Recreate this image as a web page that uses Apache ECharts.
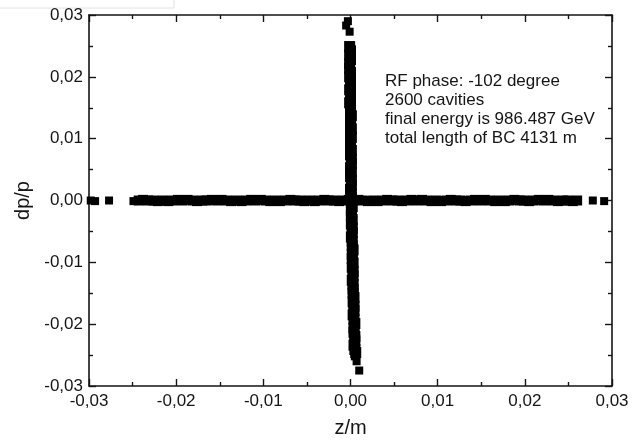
<!DOCTYPE html>
<html>
<head>
<meta charset="utf-8">
<script src="https://cdn.jsdelivr.net/npm/echarts@6/dist/echarts.min.js"></script>
<style>
  html, body { margin: 0; padding: 0; background: #fff; }
  #chart { width: 639px; height: 443px; }
</style>
</head>
<body>
<div id="chart"></div>
<script>
// axis ticks
var xMin = -0.03, xMax = 0.03, xStep = 0.01;
var yMin = -0.03, yMax = 0.03, yStep = 0.01;

// dense band of particles along the z axis (dp ~ 0)  [z, dp]
var horizontalCore = [
  [-0.0243, 0.0000], [-0.0238, 0.0001], [-0.0232, 0.0000], [-0.0226, 0.0000], [-0.0221, -0.0001],
  [-0.0215, 0.0000], [-0.0209, -0.0001], [-0.0204, 0.0000], [-0.0198, 0.0001], [-0.0193, 0.0000],
  [-0.0187, 0.0001], [-0.0181, 0.0000], [-0.0176, -0.0001], [-0.0170, 0.0000], [-0.0165, 0.0000],
  [-0.0159, 0.0001], [-0.0153, 0.0000], [-0.0148, 0.0001], [-0.0142, 0.0000], [-0.0137, -0.0001],
  [-0.0131, 0.0000], [-0.0125, -0.0001], [-0.0120, 0.0000], [-0.0114, 0.0001], [-0.0109, 0.0000],
  [-0.0103, 0.0001], [-0.0097, 0.0000], [-0.0092, -0.0001], [-0.0086, 0.0000], [-0.0081, -0.0001],
  [-0.0075, 0.0000], [-0.0069, 0.0001], [-0.0064, 0.0000], [-0.0058, 0.0000], [-0.0053, -0.0001],
  [-0.0047, 0.0000], [-0.0041, -0.0001], [-0.0036, 0.0000], [-0.0030, 0.0001], [-0.0025, 0.0000],
  [-0.0019, 0.0000], [-0.0013, -0.0001], [-0.0008, 0.0000], [-0.0002, 0.0001], [0.0003, 0.0000],
  [0.0009, 0.0001], [0.0014, 0.0000], [0.0020, -0.0001], [0.0026, 0.0000], [0.0031, -0.0001],
  [0.0037, 0.0000], [0.0042, 0.0001], [0.0048, 0.0000], [0.0054, 0.0000], [0.0059, -0.0001],
  [0.0065, 0.0000], [0.0070, 0.0001], [0.0076, 0.0000], [0.0082, 0.0001], [0.0087, 0.0000],
  [0.0093, -0.0001], [0.0098, 0.0000], [0.0104, -0.0001], [0.0110, 0.0000], [0.0115, 0.0001],
  [0.0121, 0.0000], [0.0126, 0.0000], [0.0132, -0.0001], [0.0138, 0.0000], [0.0143, 0.0001],
  [0.0149, 0.0000], [0.0154, 0.0001], [0.0160, 0.0000], [0.0166, -0.0001], [0.0171, 0.0000],
  [0.0177, -0.0001], [0.0182, 0.0000], [0.0188, 0.0001], [0.0194, 0.0000], [0.0199, 0.0000],
  [0.0205, -0.0001], [0.0210, 0.0000], [0.0216, 0.0001], [0.0222, 0.0000], [0.0227, 0.0001],
  [0.0233, 0.0000], [0.0238, -0.0001], [0.0244, 0.0000], [0.0249, 0.0000], [0.0255, -0.0001],
  [0.0260, 0.0000]
];

// isolated particles at the ends of the z band  [z, dp]
var horizontalStray = [
  [-0.0298, 0.0000], [-0.0293, -0.0001], [-0.0277, 0.0000], [-0.0249, -0.0001],
  [0.0278, 0.0000], [0.0291, -0.0001]
];

// dense band of particles along the dp/p axis (z ~ 0)  [z, dp]
var verticalCore = [
  [-0.0001, 0.0249], [0.0000, 0.0242], [-0.0001, 0.0235], [0.0000, 0.0228], [-0.0001, 0.0221],
  [-0.0001, 0.0214], [0.0000, 0.0207], [-0.0001, 0.0200], [0.0000, 0.0193], [0.0000, 0.0186],
  [-0.0001, 0.0179], [0.0000, 0.0172], [0.0000, 0.0165], [-0.0001, 0.0158], [0.0000, 0.0151],
  [0.0000, 0.0144], [0.0001, 0.0137], [0.0000, 0.0130], [0.0000, 0.0123], [0.0001, 0.0116],
  [0.0000, 0.0109], [0.0001, 0.0102], [0.0000, 0.0095], [0.0000, 0.0088], [0.0001, 0.0081],
  [0.0000, 0.0074], [0.0001, 0.0067], [0.0001, 0.0060], [0.0000, 0.0053], [0.0001, 0.0046],
  [0.0000, 0.0039], [0.0001, 0.0032], [0.0001, 0.0025], [0.0000, 0.0018], [0.0001, 0.0011],
  [0.0001, 0.0004], [0.0001, -0.0003], [0.0002, -0.0010], [0.0001, -0.0017], [0.0001, -0.0024],
  [0.0002, -0.0031], [0.0001, -0.0038], [0.0002, -0.0045], [0.0002, -0.0052], [0.0001, -0.0059],
  [0.0002, -0.0066], [0.0002, -0.0073], [0.0003, -0.0080], [0.0002, -0.0087], [0.0002, -0.0094],
  [0.0003, -0.0101], [0.0002, -0.0108], [0.0003, -0.0115], [0.0003, -0.0122], [0.0002, -0.0129],
  [0.0003, -0.0136], [0.0003, -0.0143], [0.0003, -0.0150], [0.0004, -0.0157], [0.0003, -0.0164],
  [0.0004, -0.0171], [0.0004, -0.0178], [0.0003, -0.0185], [0.0004, -0.0192], [0.0005, -0.0199],
  [0.0004, -0.0206], [0.0004, -0.0213], [0.0005, -0.0220], [0.0005, -0.0227], [0.0004, -0.0234],
  [0.0005, -0.0241], [0.0006, -0.0246]
];

// isolated particles at the ends of the dp/p band  [z, dp]
var verticalStray = [
  [-0.0003, 0.0290], [-0.0005, 0.0283], [-0.0001, 0.0273],
  [0.0005, -0.0252], [0.0007, -0.0260], [0.0010, -0.0275]
];

var noteLines = [
  'RF phase: -102 degree',
  '2600 cavities',
  'final energy is 986.487 GeV',
  'total length of BC 4131 m'
];

var FONT = 'Arial, "Liberation Sans", sans-serif';
var INK = '#151515';

function commaLabel(v) {
  return v.toFixed(2).replace('.', ',');
}

function frameAxis(pos, withLabels) {
  var vertical = pos === 'left' || pos === 'right';
  var ax = {
    type: 'value',
    position: pos,
    min: vertical ? yMin : xMin,
    max: vertical ? yMax : xMax,
    interval: vertical ? yStep : xStep,
    axisLine: { show: true, onZero: false, lineStyle: { color: INK, width: 1.6 } },
    axisTick: { show: true, inside: true, length: 7, lineStyle: { color: INK, width: 1.4 } },
    minorTick: { show: true, splitNumber: 2, length: 4, lineStyle: { color: INK, width: 1.4 } },
    splitLine: { show: false },
    minorSplitLine: { show: false },
    axisLabel: { show: false }
  };
  if (withLabels) {
    ax.axisLabel = {
      show: true,
      formatter: commaLabel,
      fontFamily: FONT,
      fontSize: 17,
      color: INK,
      margin: pos === 'bottom' ? 7 : 6
    };
  }
  return ax;
}

var xBottom = frameAxis('bottom', true);
xBottom.name = 'z/m';
xBottom.nameLocation = 'middle';
xBottom.nameGap = 32;
xBottom.nameTextStyle = { fontFamily: FONT, fontSize: 20, color: INK };

var yLeft = frameAxis('left', true);
yLeft.name = 'dp/p';
yLeft.nameLocation = 'middle';
yLeft.nameGap = 53;
yLeft.nameTextStyle = { fontFamily: FONT, fontSize: 20, color: INK };

function squares(name, data, size) {
  return {
    name: name,
    type: 'scatter',
    symbol: 'rect',
    symbolSize: size,
    itemStyle: { color: '#000', opacity: 1 },
    data: data
  };
}

var option = {
  animation: false,
  backgroundColor: '#fff',
  grid: { left: 89, right: 27, top: 15, bottom: 50 },
  xAxis: [xBottom, frameAxis('top', false)],
  yAxis: [yLeft, frameAxis('right', false)],
  graphic: [
    {
      type: 'polyline',
      shape: { points: [[0, 8], [174, 8], [174, 0]] },
      style: { stroke: '#e2e2e2', lineWidth: 1, fill: null },
      silent: true
    },
    {
      type: 'text',
      left: 385,
      top: 72,
      style: {
        text: noteLines.join('\n'),
        font: '17px ' + FONT,
        lineHeight: 19,
        fill: INK
      },
      silent: true
    }
  ],
  series: [
    squares('horizontal core', horizontalCore, 10),
    squares('horizontal stray', horizontalStray, 8),
    squares('vertical core', verticalCore, 11),
    squares('vertical stray', verticalStray, 8)
  ]
};

var chart = echarts.init(document.getElementById('chart'));
chart.setOption(option);
</script>
</body>
</html>
